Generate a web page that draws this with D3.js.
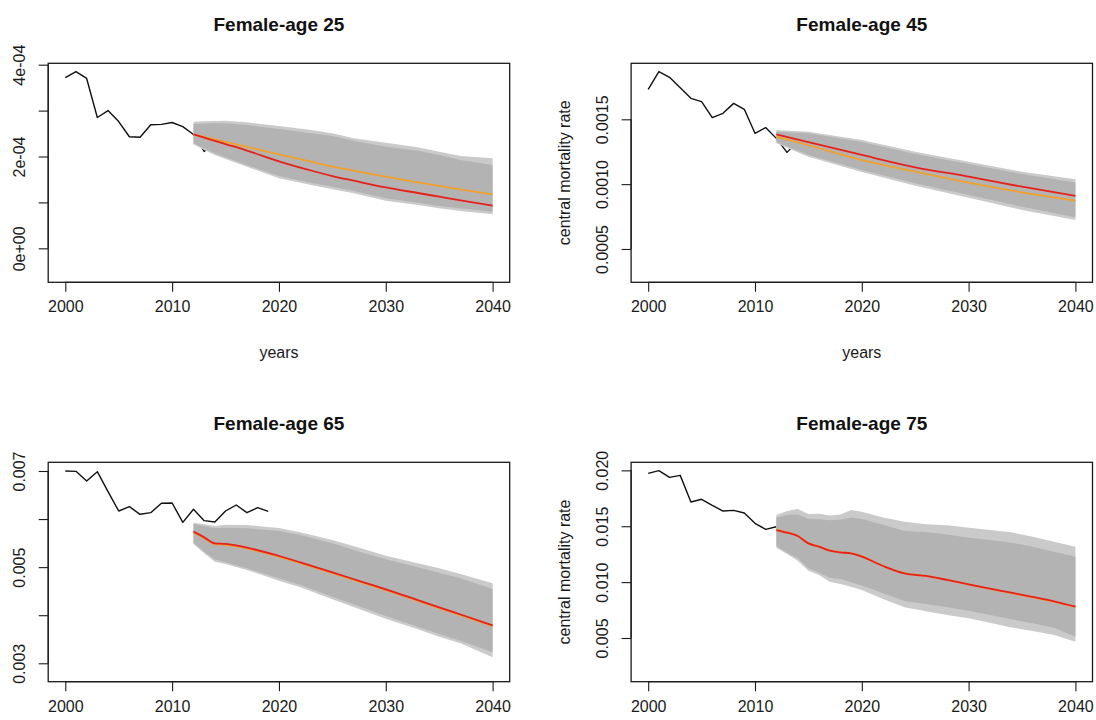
<!DOCTYPE html>
<html>
<head>
<meta charset="utf-8">
<script src="https://cdn.jsdelivr.net/npm/d3@7"></script>
<style>
  html, body { margin: 0; padding: 0; background: #fff; }
  svg { display: block; font-family: "Liberation Sans", Arial, Helvetica, sans-serif; }
</style>
</head>
<body>
<svg id="chart" width="1096" height="720"></svg>
<script>
// ---------------- DATA ----------------
const titles = ["Female-age 25", "Female-age 45", "Female-age 65", "Female-age 75"];
const xTicks = [2000, 2010, 2020, 2030, 2040];

// Age 25
const hist25Years = [2000,2001,2002,2003,2004,2005,2006,2007,2008,2009,2010,2011,2012,2013,2014];
const hist25 = [3.72e-4,3.85e-4,3.70e-4,2.85e-4,3.00e-4,2.76e-4,2.43e-4,2.42e-4,2.69e-4,2.70e-4,2.74e-4,2.65e-4,2.48e-4,2.11e-4,2.30e-4];
const fc25Years = [2012,2013,2014,2015,2017,2020,2023,2025,2027,2030,2033,2035,2037,2040];
const outerUp25 = [2.759e-4,2.766e-4,2.773e-4,2.780e-4,2.744e-4,2.664e-4,2.577e-4,2.505e-4,2.396e-4,2.301e-4,2.200e-4,2.105e-4,2.011e-4,1.960e-4];
const innerUp25 = [2.708e-4,2.715e-4,2.722e-4,2.722e-4,2.686e-4,2.599e-4,2.505e-4,2.446e-4,2.345e-4,2.214e-4,2.127e-4,2.033e-4,1.924e-4,1.815e-4];
const innerLo25 = [2.287e-4,2.178e-4,2.069e-4,1.982e-4,1.815e-4,1.575e-4,1.430e-4,1.343e-4,1.249e-4,1.089e-4,0.995e-4,0.922e-4,0.871e-4,0.799e-4];
const outerLo25 = [2.265e-4,2.142e-4,2.033e-4,1.946e-4,1.779e-4,1.524e-4,1.379e-4,1.285e-4,1.198e-4,1.038e-4,0.944e-4,0.871e-4,0.813e-4,0.740e-4];
const red25 = [2.483e-4,2.410e-4,2.340e-4,2.270e-4,2.130e-4,1.895e-4,1.695e-4,1.575e-4,1.474e-4,1.328e-4,1.205e-4,1.125e-4,1.045e-4,0.929e-4];
const orange25 = [2.483e-4,2.428e-4,2.374e-4,2.320e-4,2.210e-4,2.047e-4,1.887e-4,1.779e-4,1.691e-4,1.561e-4,1.437e-4,1.358e-4,1.285e-4,1.176e-4];
const yTicks25 = [0, 1e-4, 2e-4, 3e-4, 4e-4];
const yLabels25 = ["0e+00", "", "2e-04", "", "4e-04"];

// Age 45
const hist45Years = [2000,2001,2002,2003,2004,2005,2006,2007,2008,2009,2010,2011,2012,2013,2014];
const hist45 = [0.001731,0.001868,0.001824,0.001744,0.001662,0.001636,0.001513,0.001546,0.001623,0.001577,0.001392,0.001436,0.001353,0.001245,0.00133];
const fc45Years = [2012,2015,2020,2025,2030,2035,2040];
const outerUp45 = [0.001418,0.001405,0.001340,0.001250,0.001173,0.001096,0.001037];
const innerUp45 = [0.001405,0.001392,0.001325,0.001233,0.001156,0.001078,0.001012];
const innerLo45 = [0.001325,0.001225,0.001109,0.001006,0.000916,0.000826,0.000744];
const outerLo45 = [0.001315,0.001212,0.001094,0.000988,0.000896,0.000801,0.000724];
const red45 = [0.001384,0.001325,0.001225,0.001130,0.001058,0.000980,0.000909];
const orange45 = [0.001366,0.001300,0.001186,0.001096,0.001012,0.000937,0.000873];
const yTicks45 = [0.0005, 0.0010, 0.0015];
const yLabels45 = ["0.0005", "0.0010", "0.0015"];

// Age 65
const hist65Years = [2000,2001,2002,2003,2004,2005,2006,2007,2008,2009,2010,2011,2012,2013,2014,2015,2016,2017,2018,2019];
const hist65 = [0.00700,0.006993,0.006792,0.006986,0.00657,0.006168,0.006258,0.006099,0.006133,0.006328,0.006334,0.005932,0.006203,0.005967,0.005939,0.006168,0.006293,0.006133,0.006237,0.006161];
const fc65Years = [2012,2013,2014,2015,2017,2020,2022,2025,2028,2030,2033,2035,2037,2040];
const outerUp65 = [0.005925,0.005891,0.005856,0.005884,0.005877,0.005815,0.005724,0.005565,0.005371,0.005239,0.005080,0.004976,0.004858,0.004664];
const innerUp65 = [0.005898,0.005856,0.005808,0.005821,0.005808,0.005752,0.005669,0.005496,0.005288,0.005163,0.004997,0.004886,0.004768,0.004546];
const innerLo65 = [0.005510,0.005322,0.005163,0.005100,0.004976,0.004768,0.004629,0.004386,0.004144,0.003984,0.003762,0.003610,0.003471,0.003229];
const outerLo65 = [0.005482,0.005288,0.005114,0.005066,0.004941,0.004719,0.004581,0.004331,0.004088,0.003929,0.003707,0.003554,0.003416,0.003125];
const red65 = [0.005738,0.005620,0.005496,0.005482,0.005406,0.005232,0.005100,0.004893,0.004678,0.004539,0.004314,0.004165,0.004015,0.003790];
const orange65 = [0.005722,0.005604,0.005480,0.005466,0.005390,0.005216,0.005084,0.004877,0.004662,0.004523,0.004298,0.004149,0.003999,0.003774];
const yTicks65 = [0.003, 0.004, 0.005, 0.006, 0.007];
const yLabels65 = ["0.003", "", "0.005", "", "0.007"];

// Age 75
const hist75Years = [2000,2001,2002,2003,2004,2005,2006,2007,2008,2009,2010,2011,2012];
const hist75 = [0.01973,0.01997,0.01937,0.01955,0.01717,0.01741,0.01687,0.01636,0.01642,0.01618,0.01526,0.01472,0.01495];
const fc75Years = [2012,2013,2014,2015,2016,2017,2018,2019,2020,2022,2024,2026,2028,2030,2032,2034,2036,2038,2040];
const outerUp75 = [0.01600,0.01636,0.01654,0.01609,0.01612,0.01597,0.01606,0.01645,0.01630,0.01579,0.01541,0.01517,0.01508,0.01487,0.01466,0.01446,0.01407,0.01362,0.01317];
const innerUp75 = [0.01579,0.01600,0.01606,0.01565,0.01562,0.01553,0.01559,0.01579,0.01565,0.01514,0.01457,0.01448,0.01427,0.01398,0.01377,0.01353,0.01317,0.01272,0.01228];
const innerLo75 = [0.01323,0.01263,0.01213,0.01123,0.01084,0.01040,0.01028,0.00998,0.00969,0.00900,0.00831,0.00804,0.00774,0.00744,0.00705,0.00667,0.00631,0.00592,0.00512];
const outerLo75 = [0.01308,0.01251,0.01192,0.01102,0.01064,0.01004,0.00983,0.00959,0.00929,0.00850,0.00775,0.00740,0.00705,0.00676,0.00637,0.00595,0.00563,0.00527,0.00467];
const red75 = [0.01466,0.01442,0.01412,0.01347,0.01317,0.01281,0.01266,0.01257,0.01228,0.01144,0.01078,0.01055,0.01019,0.00980,0.00941,0.00905,0.00867,0.00828,0.00780];
const orange75 = [0.01470,0.01446,0.01415,0.01350,0.01320,0.01284,0.01268,0.01259,0.01230,0.01146,0.01080,0.01056,0.01020,0.00979,0.00939,0.00902,0.00864,0.00825,0.00777];
const yTicks75 = [0.005, 0.010, 0.015, 0.020];
const yLabels75 = ["0.005", "0.010", "0.015", "0.020"];

// ---------------- LAYOUT ----------------
const panels = [
  { title: titles[0], box: {x0: 48.2, x1: 509.7, y0: 63.3, y1: 282.3}, yDom: [-0.74e-4, 4.03e-4],
    hy: hist25Years, h: hist25, fy: fc25Years, ou: outerUp25, iu: innerUp25, il: innerLo25, ol: outerLo25, red: red25, orange: orange25,
    yt: yTicks25, yl: yLabels25, ylab: false, xlab: true },
  { title: titles[1], box: {x0: 631.1, x1: 1092.5, y0: 63.3, y1: 282.3}, yDom: [0.000243, 0.001932],
    hy: hist45Years, h: hist45, fy: fc45Years, ou: outerUp45, iu: innerUp45, il: innerLo45, ol: outerLo45, red: red45, orange: orange45,
    yt: yTicks45, yl: yLabels45, ylab: true, xlab: true },
  { title: titles[2], box: {x0: 48.2, x1: 509.7, y0: 462.3, y1: 681.7}, yDom: [0.002617, 0.007181],
    hy: hist65Years, h: hist65, fy: fc65Years, ou: outerUp65, iu: innerUp65, il: innerLo65, ol: outerLo65, red: red65, orange: orange65,
    yt: yTicks65, yl: yLabels65, ylab: false, xlab: false },
  { title: titles[3], box: {x0: 631.1, x1: 1092.5, y0: 462.3, y1: 681.7}, yDom: [0.00109, 0.02072],
    hy: hist75Years, h: hist75, fy: fc75Years, ou: outerUp75, iu: innerUp75, il: innerLo75, ol: outerLo75, red: red75, orange: orange75,
    yt: yTicks75, yl: yLabels75, ylab: true, xlab: false }
];

const svg = d3.select("#chart");
svg.append("rect").attr("width", 1096).attr("height", 720).attr("fill", "#fff");

const AX = "#1a1a1a";
const OUTER = "#cacaca", INNER = "#b3b3b3";

panels.forEach(p => {
  const b = p.box;
  const x = d3.scaleLinear().domain([1998.4, 2041.6]).range([b.x0, b.x1]);
  const y = d3.scaleLinear().domain(p.yDom).range([b.y1, b.y0]);
  const g = svg.append("g");

  const clipId = "clip" + Math.round(b.x0) + "_" + Math.round(b.y0);
  svg.append("clipPath").attr("id", clipId).append("rect")
    .attr("x", b.x0).attr("y", b.y0).attr("width", b.x1 - b.x0).attr("height", b.y1 - b.y0);
  const plot = g.append("g").attr("clip-path", `url(#${clipId})`);

  // historical line (drawn underneath fan)
  const histPts = p.hy.map((yr, i) => [yr, p.h[i]]);
  plot.append("path").datum(histPts)
    .attr("d", d3.line().x(d => x(d[0])).y(d => y(d[1])))
    .attr("fill", "none").attr("stroke", "#111").attr("stroke-width", 1.4).attr("stroke-linejoin", "round");

  const fc = p.fy.map((yr, i) => ({yr, ou: p.ou[i], iu: p.iu[i], il: p.il[i], ol: p.ol[i], r: p.red[i], o: p.orange[i]}));
  plot.append("path").datum(fc)
    .attr("d", d3.area().x(d => x(d.yr)).y0(d => y(d.ol)).y1(d => y(d.ou)))
    .attr("fill", OUTER);
  plot.append("path").datum(fc)
    .attr("d", d3.area().x(d => x(d.yr)).y0(d => y(d.il)).y1(d => y(d.iu)))
    .attr("fill", INNER);
  plot.append("path").datum(fc)
    .attr("d", d3.line().x(d => x(d.yr)).y(d => y(d.o)).curve(d3.curveMonotoneX))
    .attr("fill", "none").attr("stroke", "#f3a02a").attr("stroke-width", 1.8);
  plot.append("path").datum(fc)
    .attr("d", d3.line().x(d => x(d.yr)).y(d => y(d.r)).curve(d3.curveMonotoneX))
    .attr("fill", "none").attr("stroke", "#e8201a").attr("stroke-width", 1.8);

  // box
  g.append("rect").attr("x", b.x0).attr("y", b.y0).attr("width", b.x1 - b.x0).attr("height", b.y1 - b.y0)
    .attr("fill", "none").attr("stroke", AX).attr("stroke-width", 1.3);

  // x axis
  const xa = g.append("g").attr("transform", `translate(0,${b.y1})`)
    .call(d3.axisBottom(x).tickValues(xTicks).tickFormat(d3.format("d")).tickSize(9.5).tickSizeOuter(0).tickPadding(9));
  xa.select(".domain").attr("d", `M${x(2000)},0H${x(2040)}`).attr("stroke", AX).attr("stroke-width", 1.1);
  xa.selectAll(".tick line").attr("stroke", AX).attr("stroke-width", 1.1);
  xa.selectAll(".tick text").attr("fill", "#1a1a1a").attr("font-size", 16).attr("font-family", "Liberation Sans, Arial, sans-serif");

  // y axis
  const ya = g.append("g").attr("transform", `translate(${b.x0},0)`)
    .call(d3.axisLeft(y).tickValues(p.yt).tickFormat((d, i) => p.yl[i]).tickSize(9.5).tickSizeOuter(0));
  ya.select(".domain").attr("d", `M0,${y(p.yt[0])}V${y(p.yt[p.yt.length - 1])}`).attr("stroke", AX).attr("stroke-width", 1.1);
  ya.selectAll(".tick line").attr("stroke", AX).attr("stroke-width", 1.1);
  ya.selectAll(".tick text")
    .attr("x", null).attr("dy", null)
    .attr("transform", "translate(-23,0) rotate(-90)")
    .attr("text-anchor", "middle")
    .attr("fill", "#1a1a1a").attr("font-size", 16).attr("font-family", "Liberation Sans, Arial, sans-serif");

  // title
  g.append("text").attr("x", (b.x0 + b.x1) / 2).attr("y", b.y0 - 32.5)
    .attr("text-anchor", "middle").attr("font-weight", "bold").attr("font-size", 19)
    .attr("fill", "#111").text(p.title);

  // x label (bottom row's labels fall outside the picture in the reference)
  if (p.xlab) {
    g.append("text").attr("x", (b.x0 + b.x1) / 2).attr("y", b.y1 + 75.5)
      .attr("text-anchor", "middle").attr("font-size", 16).attr("fill", "#1a1a1a").text("years");
  }
  // y label
  if (p.ylab) {
    g.append("text").attr("transform", `translate(${b.x0 - 61},${(b.y0 + b.y1) / 2}) rotate(-90)`)
      .attr("text-anchor", "middle").attr("font-size", 16).attr("fill", "#1a1a1a").text("central mortality rate");
  }
});
</script>
</body>
</html>
